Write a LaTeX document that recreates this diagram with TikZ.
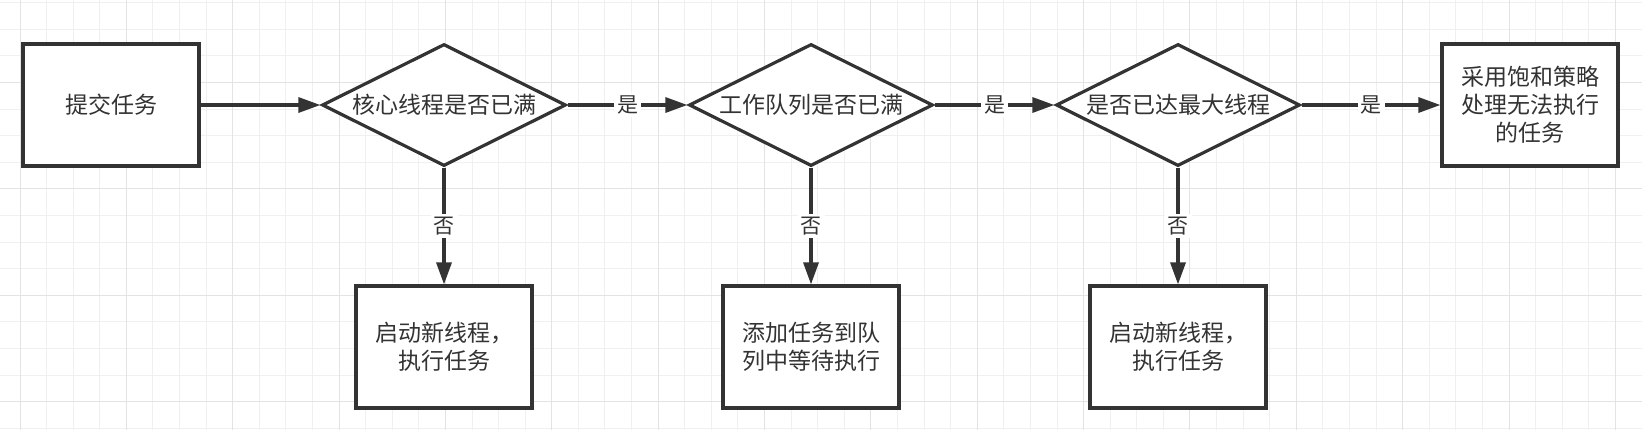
\documentclass[tikz,border=0pt]{standalone}
\usepackage{fontspec}
\setmainfont{Noto Sans CJK SC}
\usetikzlibrary{shapes.geometric,arrows.meta}
\definecolor{ink}{HTML}{333333}
\definecolor{gridminor}{HTML}{F0F0F0}
\definecolor{gridmajor}{HTML}{E3E3E3}

\begin{document}
\begin{tikzpicture}[x=0.5pt, y=-0.5pt,
                    task/.style={rectangle, draw=ink, fill=white,
                                 line width=1.6pt, minimum width=88pt,
                                 minimum height=61pt, inner sep=0pt,
                                 align=center, text=ink,
                                 font=\fontsize{11.5}{14}\selectfont},
                    check/.style={diamond, aspect=2, draw=ink, fill=white,
                                  line width=1.6pt, minimum width=122pt,
                                  minimum height=61pt, inner sep=0pt,
                                  text=ink, font=\fontsize{11.5}{14}\selectfont},
                    tag/.style={fill=white, inner sep=1.5pt, text=ink,
                                font=\fontsize{10.5}{12}\selectfont},
                    flow/.style={draw=ink, line width=1.6pt,
                                 -{Triangle[length=11pt, width=7.5pt]}}]
                      \useasboundingbox (0,0) rectangle (1642,430);
                      \fill[white] (0,0) rectangle (1642,430);

                      \foreach \k in {0,...,61} {
                              \draw[gridminor, line width=0.5pt] ({20+26.59*\k},0) -- ({20+26.59*\k},430);
                          }
                      \foreach \k in {0,...,16} {
                              \draw[gridminor, line width=0.5pt] (0,{2.8+26.59*\k}) -- (1642,{2.8+26.59*\k});
                          }
                      \foreach \k in {0,4,...,60} {
                              \draw[gridmajor, line width=0.5pt] ({20+26.59*\k},0) -- ({20+26.59*\k},430);
                          }
                      \foreach \k in {3,7,11,15} {
                              \draw[gridmajor, line width=0.5pt] (0,{2.8+26.59*\k}) -- (1642,{2.8+26.59*\k});
                          }

                      \node[task] (submit) at (111,105) {提交任务};
                      \node[check] (core) at (444,105) {核心线程是否已满};
                      \node[check] (queue) at (811,105) {工作队列是否已满};
                      \node[check] (max) at (1178,105) {是否已达最大线程};
                      \node[task] (reject) at (1530,105) {采用饱和策略\\处理无法执行\\的任务};
                      \node[task] (newA) at (444,347) {启动新线程，\\执行任务};
                      \node[task] (enqueue) at (811,347) {添加任务到队\\列中等待执行};
                      \node[task] (newB) at (1178,347) {启动新线程，\\执行任务};

                      \draw[flow] (submit) -- (core);
                      \foreach \i/\j in {core/queue, queue/max, max/reject} {
                              \draw[flow] (\i) -- node[tag] {是} (\j);
                          }
                      \foreach \i/\j in {core/newA, queue/enqueue, max/newB} {
                              \draw[flow] (\i) -- node[tag] {否} (\j);
                          }
                  \end{tikzpicture}
\end{document}
